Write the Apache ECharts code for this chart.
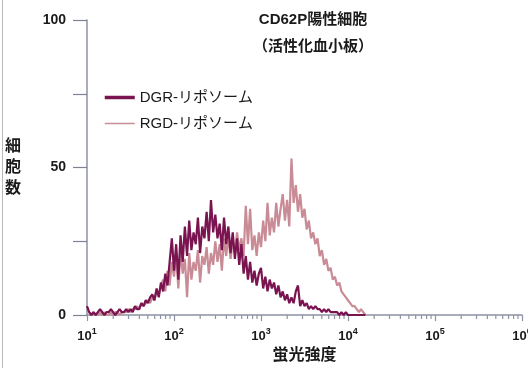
<!DOCTYPE html>
<html>
<head>
<meta charset="utf-8">
<script src="https://cdn.jsdelivr.net/npm/echarts@6/dist/echarts.min.js"></script>
<style>
  html, body { margin: 0; padding: 0; background: #fff; }
  #chart { width: 528px; height: 368px; }
</style>
</head>
<body>
<div id="chart"></div>
<script>
// Flow cytometry histogram: cell counts per fluorescence channel (log10 scale)
const titleLines = ['CD62P陽性細胞', '（活性化血小板）'];
const seriesNames = ['DGR-リポソーム', 'RGD-リポソーム'];
const xAxisTitle = '蛍光強度';
const yAxisTitle = '細胞数';

// Channel layout: first channel at 10^1, one channel every 0.025 decade
const channelStart = 1;
const channelStep = 0.025;

// Decade exponents shown on the x axis
const decadeExponents = [1, 2, 3, 4, 5, 6];
const yTickLabels = [0, 50, 100];

// Counts per channel
const dgrCounts = [
  3, 1, 0, 1, 0, 1, 2, 1, 0, 1,
  1, 2, 1, 0, 1, 2, 1, 1, 2, 1,
  2, 1, 3, 2, 2, 4, 3, 5, 4, 6,
  7, 5, 9, 6, 11, 8, 14, 10, 18, 26,
  15, 24, 12, 27, 18, 30, 20, 32, 22, 28,
  24, 33, 21, 30, 26, 35, 25, 39, 28, 34,
  26, 31, 22, 33, 24, 30, 21, 28, 19, 26,
  17, 24, 14, 20, 12, 18, 11, 15, 10, 14,
  16, 9, 13, 8, 12, 9, 11, 7, 10, 6,
  8, 5, 7, 4, 6, 4, 8, 10, 3, 5,
  3, 4, 2, 3, 2, 3, 2, 2, 1, 2,
  1, 2, 1, 1, 1, 1, 0, 1, 0, 1,
  0, 0, 0, 0, 0, 0, 0, 0, 0
];
const rgdCounts = [
  2, 1, 0, 1, 0, 0, 1, 0, 1, 0,
  0, 1, 0, 1, 1, 0, 1, 1, 1, 2,
  1, 2, 2, 3, 2, 4, 3, 4, 5, 4,
  6, 5, 8, 7, 10, 12, 8, 15, 10, 18,
  13, 20, 9, 22, 14, 19, 6, 21, 12, 18,
  15, 22, 11, 20, 17, 23, 14, 21, 17, 25,
  18, 24, 15, 26, 20, 27, 19, 25, 21, 28,
  22, 26, 20, 37, 24, 36, 22, 27, 20, 28,
  23, 32, 25, 38, 27, 33, 28, 38, 30, 36,
  41, 32, 39, 30, 53, 38, 44, 35, 41, 33,
  36, 29, 32, 26, 28, 24, 26, 20, 22, 17,
  19, 15, 16, 12, 13, 10, 11, 8, 7, 6,
  5, 4, 3, 3, 2, 1, 2, 1, 0
];

const FONT = '"Liberation Sans", "Noto Sans CJK JP", sans-serif';
const dgrColor = '#7a1450';
const rgdColor = '#c98c96';

const toPoints = counts => counts.map((c, i) => [channelStart + i * channelStep, c]);

// Minor log ticks (2..9 within each decade)
const minorTickPos = [];
for (let n = decadeExponents[0]; n < decadeExponents[decadeExponents.length - 1]; n++) {
  for (let k = 2; k <= 9; k++) minorTickPos.push([n + Math.log10(k)]);
}

const chart = echarts.init(document.getElementById('chart'), null, { renderer: 'canvas' });
chart.setOption({
  animation: false,
  backgroundColor: '#fff',
  textStyle: { fontFamily: FONT },
  grid: { left: 87, right: 6, top: 20, bottom: 53, outerBoundsMode: 'none', containLabel: false },
  graphic: [
    {
      type: 'line', silent: true,
      shape: { x1: 2.5, y1: 0, x2: 2.5, y2: 368 },
      style: { stroke: '#b8b8b8', lineWidth: 1 }
    },
    {
      type: 'text', silent: true,
      x: 313, y: 6,
      style: {
        text: titleLines.join('\n'),
        align: 'center', verticalAlign: 'top',
        font: 'bold 15px ' + FONT, fill: '#1a1a1a', lineHeight: 27
      }
    }
  ],
  legend: {
    orient: 'vertical',
    left: 98, top: 85,
    itemWidth: 30, itemHeight: 14, itemGap: 11,
    textStyle: { fontSize: 15, color: '#1a1a1a', fontFamily: FONT },
    data: [
      { name: seriesNames[0], itemStyle: { opacity: 0 }, lineStyle: { width: 3.5, color: dgrColor } },
      { name: seriesNames[1], itemStyle: { opacity: 0 }, lineStyle: { width: 1.5, color: rgdColor } }
    ]
  },
  xAxis: {
    type: 'value',
    min: decadeExponents[0],
    max: decadeExponents[decadeExponents.length - 1],
    interval: 1,
    name: xAxisTitle,
    nameLocation: 'middle',
    nameGap: 33,
    nameTextStyle: { fontSize: 16, fontWeight: 'bold', color: '#1a1a1a' },
    axisLine: { show: true, lineStyle: { color: '#8d93a3', width: 1.5 } },
    axisTick: { show: true, length: 6, lineStyle: { color: '#8d93a3', width: 1.2 } },
    splitLine: { show: false },
    axisLabel: {
      margin: 12,
      color: '#1a1a1a',
      formatter: v => '{b|10}{s|' + v + '}',
      rich: {
        b: { fontSize: 13, fontWeight: 'bold', color: '#1a1a1a', lineHeight: 16, verticalAlign: 'bottom' },
        s: { fontSize: 9, fontWeight: 'bold', color: '#1a1a1a', lineHeight: 16, verticalAlign: 'top', padding: [0, 0, 5, 0] }
      }
    }
  },
  yAxis: {
    type: 'value',
    min: 0, max: 100, interval: 25,
    name: yAxisTitle.split('').join('\n'),
    nameLocation: 'middle',
    nameRotate: 0,
    nameGap: 66,
    nameTextStyle: { fontSize: 16, fontWeight: 'bold', color: '#1a1a1a', lineHeight: 21 },
    axisLine: { show: true, lineStyle: { color: '#8d93a3', width: 1.5 } },
    axisTick: { show: true, length: 14, lineStyle: { color: '#7d8190', width: 1.2 } },
    splitLine: { show: false },
    axisLabel: {
      margin: 21,
      fontSize: 14, fontWeight: 'bold', color: '#1a1a1a',
      formatter: v => (yTickLabels.indexOf(v) >= 0 ? String(v) : '')
    }
  },
  series: [
    {
      name: seriesNames[1],
      type: 'line',
      data: toPoints(rgdCounts),
      showSymbol: false, symbol: 'none',
      lineStyle: { color: rgdColor, width: 2.2 },
      itemStyle: { color: rgdColor },
      z: 2
    },
    {
      name: seriesNames[0],
      type: 'line',
      data: toPoints(dgrCounts),
      showSymbol: false, symbol: 'none',
      lineStyle: { color: dgrColor, width: 2.2 },
      itemStyle: { color: dgrColor },
      z: 3
    },
    {
      type: 'custom',
      silent: true,
      clip: false,
      data: minorTickPos,
      renderItem: (params, api) => {
        const p = api.coord([api.value(0), 0]);
        return {
          type: 'line',
          shape: { x1: p[0], y1: p[1], x2: p[0], y2: p[1] + 4 },
          style: { stroke: '#8d93a3', lineWidth: 1.2 }
        };
      },
      z: 1
    }
  ]
});
</script>
</body>
</html>
